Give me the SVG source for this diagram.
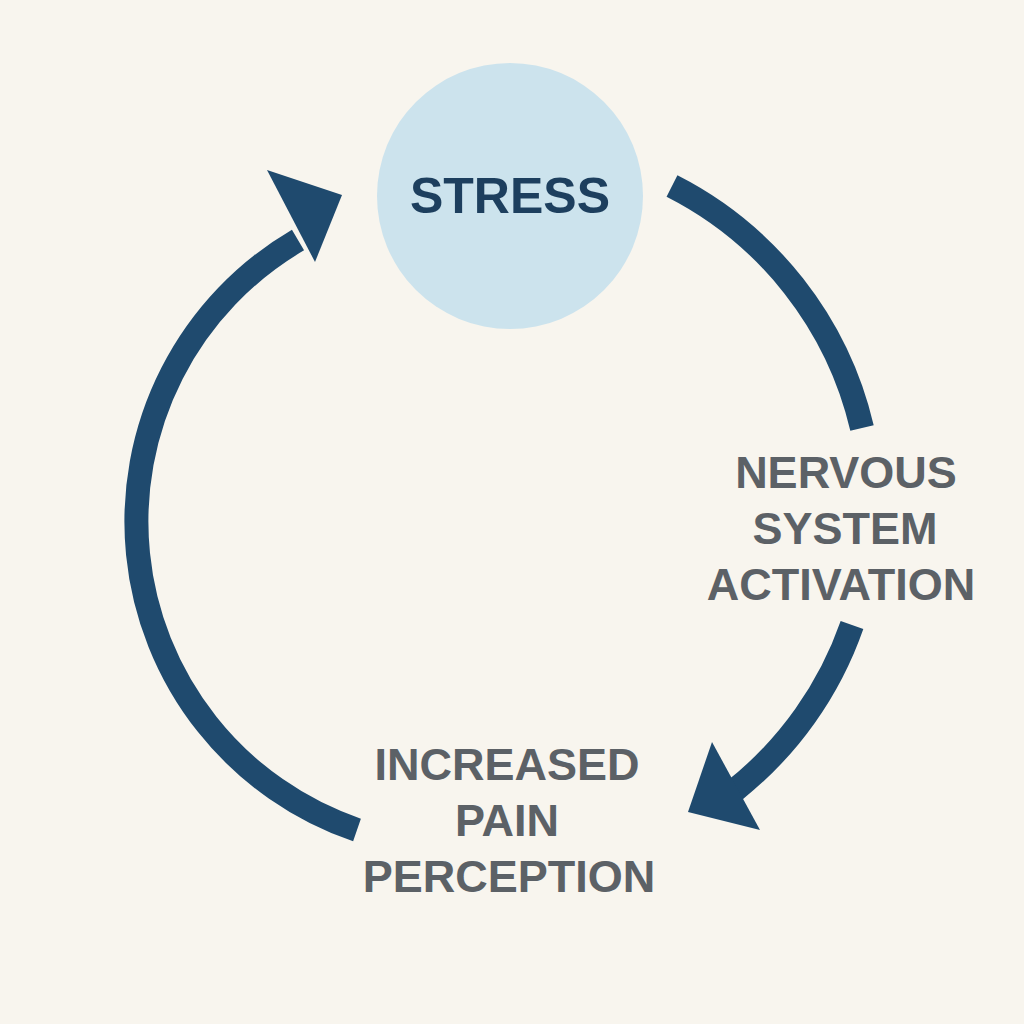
<svg xmlns="http://www.w3.org/2000/svg" width="1024" height="1024" viewBox="0 0 1024 1024">
<style>
.arc{fill:none;stroke:#1f4a6e;stroke-width:24}
.head{fill:#1f4a6e}
.lbl{font-family:"Liberation Sans",Arial,sans-serif;font-weight:bold;font-size:45px;fill:#5c6166;text-anchor:middle}
</style>
<rect width="1024" height="1024" fill="#f8f5ee"/>
<g id="stress">
<circle cx="510" cy="196" r="133" fill="#cce3ed"/>
<text x="510" y="213" font-family="Liberation Sans,Arial,sans-serif" font-weight="bold" font-size="50" fill="#1d3f5e" text-anchor="middle">STRESS</text>
</g>
<g id="nervous">
<text class="lbl" x="846" y="488">NERVOUS</text>
<text class="lbl" x="845" y="544">SYSTEM</text>
<text class="lbl" x="841" y="600">ACTIVATION</text>
</g>
<g id="pain">
<text class="lbl" x="507" y="780">INCREASED</text>
<text class="lbl" x="507" y="836">PAIN</text>
<text class="lbl" x="509" y="892">PERCEPTION</text>
</g>
<g id="connectors">
<path class="arc" d="M672,186 A365,365 0 0 1 862,428"/>
<path class="arc" d="M852,625 A365,365 0 0 1 735,790"/>
<polygon class="head" points="688,812 712,742 760,830"/>
<path class="arc" d="M357,830 A326,326 0 0 1 298,240"/>
<polygon class="head" points="342,195 267,170 315,262"/>
</g>
</svg>
